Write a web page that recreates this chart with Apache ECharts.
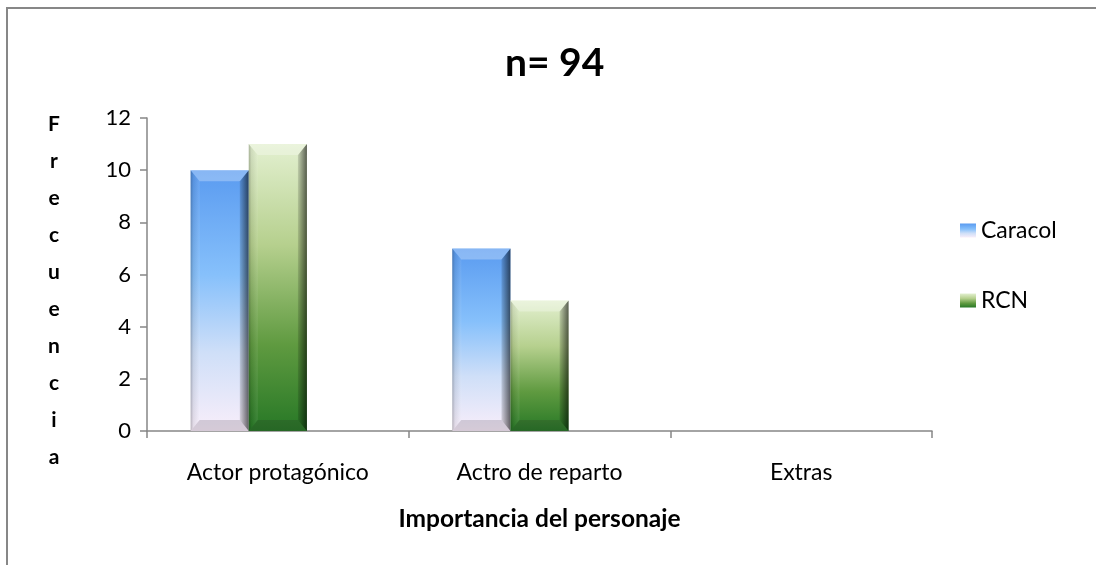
<!DOCTYPE html>
<html>
<head>
<meta charset="utf-8">
<script src="https://cdn.jsdelivr.net/npm/echarts@6/dist/echarts.min.js"></script>
<style>
  html, body { margin: 0; padding: 0; background: #fff; }
  #chart { width: 1096px; height: 565px; }
</style>
</head>
<body>
<div id="chart"></div>
<script>
// datos del grafico
var categorias = ['Actor protagónico', 'Actro de reparto', 'Extras'];
var caracol = [10, 7, 0];
var rcn = [11, 5, 0];
var ejeY = { min: 0, max: 12, interval: 2 };

var fuente = 'Lato, "Open Sans", sans-serif';

var colCaracol = new echarts.graphic.LinearGradient(0, 0, 0, 1, [
  { offset: 0, color: '#5a9bf0' },
  { offset: 0.4, color: '#86c0fb' },
  { offset: 0.7, color: '#cfdff8' },
  { offset: 1, color: '#f8eefa' }
]);
var colRcn = new echarts.graphic.LinearGradient(0, 0, 0, 1, [
  { offset: 0, color: '#e3f0d0' },
  { offset: 0.35, color: '#b6d08e' },
  { offset: 0.7, color: '#5f9a40' },
  { offset: 1, color: '#277826' }
]);

// barra con bisel (estilo excel), 3 huecos por categoria (el tercero vacio)
function barraBisel(offset) {
  return function (params, api) {
    var val = api.value(1);
    var centro = api.coord([api.value(0), val]);
    var base = api.coord([api.value(0), 0]);
    var banda = api.size([1, 0])[0];
    var w = banda / 4.5;
    var x = centro[0] + offset * w;
    var y = centro[1];
    var h = base[1] - y;
    if (h <= 0) return null;
    var bl = 9, bt = 11;
    var fill = api.visual('color');
    return {
      type: 'group',
      children: [
        { type: 'rect', shape: { x: x, y: y, width: w, height: h }, style: { fill: fill } },
        { type: 'polygon', shape: { points: [[x, y], [x + bl, y + bt], [x + bl, y + h - bt], [x, y + h]] },
          style: { fill: new echarts.graphic.LinearGradient(0, 0, 1, 0, [
            { offset: 0, color: 'rgba(0,0,0,0.25)' }, { offset: 0.3, color: 'rgba(0,0,0,0.08)' }, { offset: 1, color: 'rgba(255,255,255,0.08)' }]) } },
        { type: 'polygon', shape: { points: [[x + w, y], [x + w - bl, y + bt], [x + w - bl, y + h - bt], [x + w, y + h]] },
          style: { fill: new echarts.graphic.LinearGradient(0, 0, 1, 0, [
            { offset: 0, color: 'rgba(0,0,0,0.12)' }, { offset: 1, color: 'rgba(0,0,0,0.6)' }]) } },
        { type: 'polygon', shape: { points: [[x, y], [x + w, y], [x + w - bl, y + bt], [x + bl, y + bt]] },
          style: { fill: 'rgba(255,255,255,0.28)' } },
        { type: 'polygon', shape: { points: [[x, y + h], [x + w, y + h], [x + w - bl, y + h - bt], [x + bl, y + h - bt]] },
          style: { fill: 'rgba(40,20,40,0.16)' } }
      ]
    };
  };
}

var myChart = echarts.init(document.getElementById('chart'));
var option = {
  animation: false,
  title: {
    text: 'n= 94',
    left: 500,
    top: 39,
    textStyle: { fontFamily: fuente, fontSize: 39, fontWeight: 'bold', color: '#000' }
  },
  legend: {
    orient: 'vertical',
    left: 955,
    top: 214,
    itemGap: 47,
    itemWidth: 16,
    itemHeight: 14,
    icon: 'rect',
    textStyle: { fontFamily: fuente, fontSize: 23, color: '#000' },
    data: ['Caracol', 'RCN']
  },
  grid: { left: 147, right: 164, top: 118, bottom: 134 },
  xAxis: {
    type: 'category',
    data: categorias,
    axisLine: { lineStyle: { color: '#868686', width: 1.5 } },
    axisTick: { show: true, length: 7, lineStyle: { color: '#868686', width: 1.5 } },
    axisLabel: { fontFamily: fuente, fontSize: 23, color: '#000', margin: 30 },
    name: 'Importancia del personaje',
    nameLocation: 'middle',
    nameGap: 76,
    nameTextStyle: { fontFamily: fuente, fontSize: 24.5, fontWeight: 'bold', color: '#000' }
  },
  yAxis: {
    type: 'value',
    min: ejeY.min,
    max: ejeY.max,
    interval: ejeY.interval,
    splitLine: { show: false },
    axisLine: { show: true, lineStyle: { color: '#868686', width: 1.5 } },
    axisTick: { show: true, length: 7, lineStyle: { color: '#868686', width: 1.5 } },
    axisLabel: { fontFamily: fuente, fontSize: 22, color: '#000', margin: 16 }
  },
  graphic: [
    { type: 'rect', shape: { x: 7, y: 8, width: 1200, height: 700 },
      style: { fill: 'none', stroke: '#878787', lineWidth: 2 }, silent: true },
    { type: 'text', x: 54, y: 106,
      style: { text: 'F\nr\ne\nc\nu\ne\nn\nc\ni\na', fontFamily: fuente, fontSize: 21, fontWeight: 'bold',
        lineHeight: 37, fill: '#000', align: 'center', verticalAlign: 'top' } }
  ],
  series: [
    {
      name: 'Caracol',
      type: 'custom',
      itemStyle: { color: colCaracol },
      renderItem: barraBisel(-1.5),
      encode: { x: 0, y: 1 },
      data: categorias.map(function (c, i) { return [i, caracol[i]]; })
    },
    {
      name: 'RCN',
      type: 'custom',
      itemStyle: { color: colRcn },
      renderItem: barraBisel(-0.5),
      encode: { x: 0, y: 1 },
      data: categorias.map(function (c, i) { return [i, rcn[i]]; })
    }
  ]
};
myChart.setOption(option);
</script>
</body>
</html>
